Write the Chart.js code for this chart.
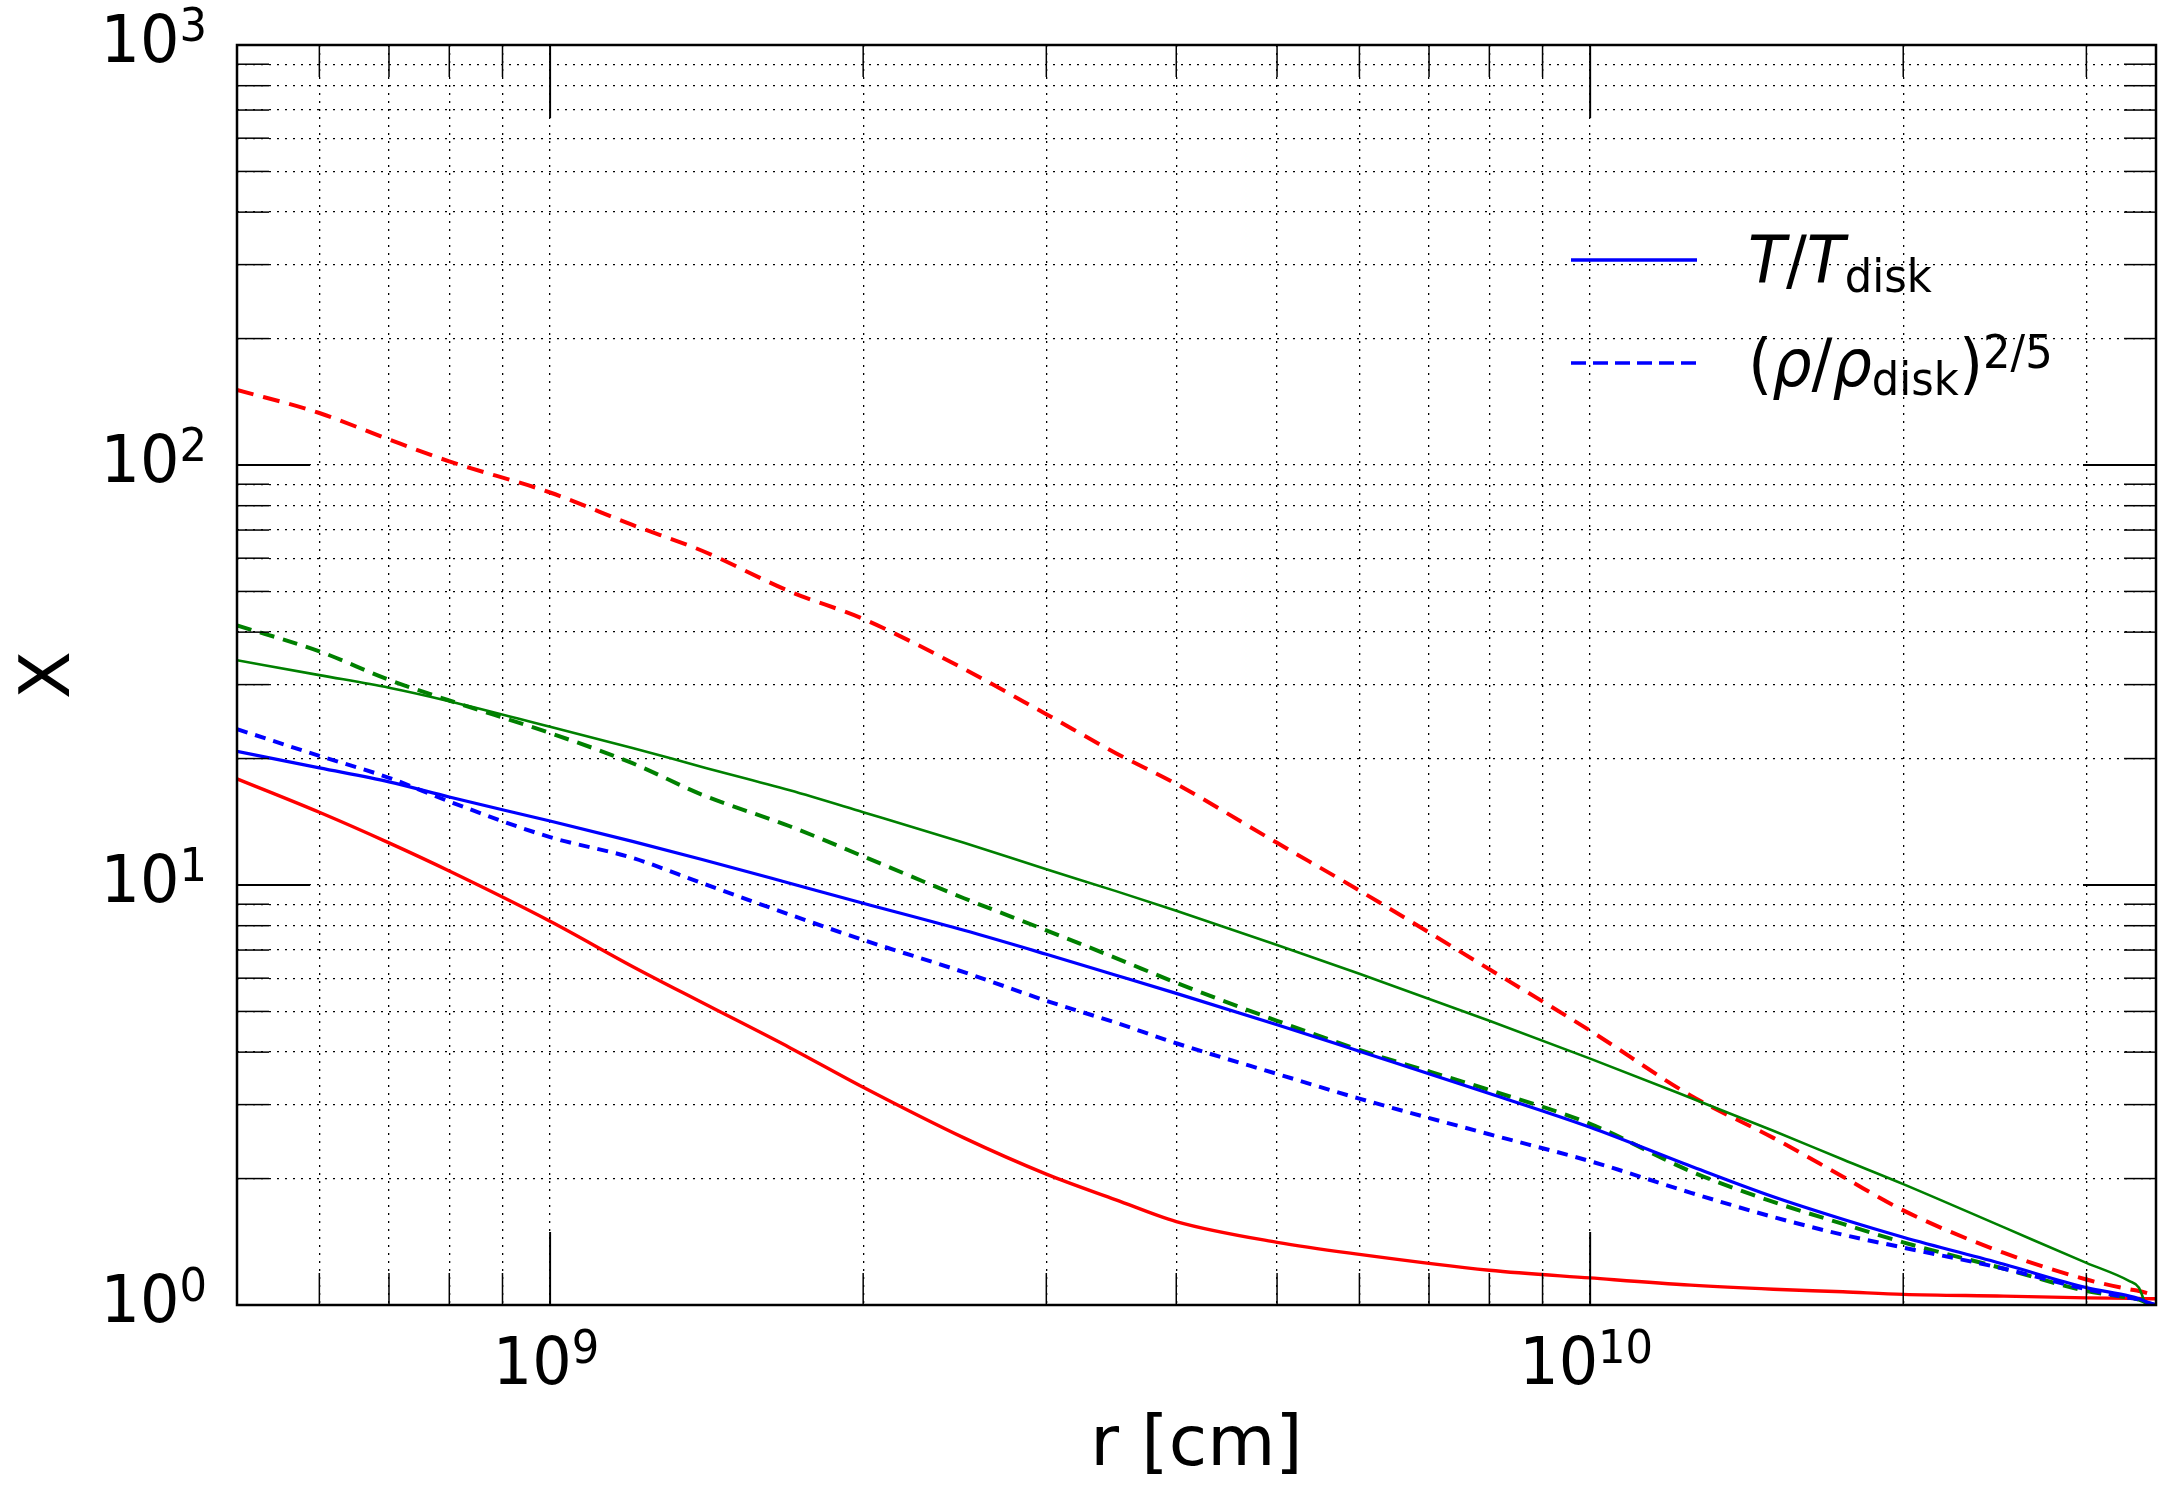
<!DOCTYPE html>
<html>
<head>
<meta charset="utf-8">
<script src="https://cdn.jsdelivr.net/npm/chart.js@4.4.1/dist/chart.umd.min.js"></script>
<style>
  html, body { margin: 0; padding: 0; background: #fff; }
  #wrap { width: 2171px; height: 1493px; }
</style>
</head>
<body>
<div id="wrap"><canvas id="chart"></canvas></div>
<script>
// radius [cm]
const radius = [5e8, 6e8, 7e8, 8e8, 1e9, 1.2e9, 1.4e9, 1.7e9, 2e9, 2.5e9, 3e9, 3.5e9, 4e9, 5e9, 6e9, 8e9,
  1e10, 1.25e10, 1.5e10, 1.75e10, 2e10, 2.5e10, 3e10, 3.3e10, 3.37e10, 3.42e10, 3.5e10];

// T/T_disk
const redT   = [17.9, 14.9, 12.6, 10.8, 8.2, 6.4, 5.25, 4.1, 3.3, 2.5, 2.05, 1.78, 1.58, 1.41, 1.32, 1.21,
  1.16, 1.115, 1.09, 1.075, 1.06, 1.05, 1.04, 1.037, 1.036, 1.035, 1.035];
const greenT = [34.3, 31.6, 29.5, 27.4, 23.8, 21.2, 19.1, 16.8, 14.9, 12.6, 10.9, 9.67, 8.68, 7.2, 6.15, 4.75,
  3.86, 3.11, 2.6, 2.22, 1.94, 1.53, 1.26, 1.14, 1.10, 1.0, null];
const blueT  = [20.8, 19.0, 17.6, 16.2, 14.2, 12.7, 11.5, 10.1, 9.05, 7.8, 6.84, 6.1, 5.52, 4.65, 4.02, 3.19,
  2.65, 2.14, 1.81, 1.6, 1.45, 1.25, 1.10, 1.05, 1.035, 1.02, 1.0];

// (rho/rho_disk)^(2/5)
const redRho   = [151, 133, 115, 102, 86, 72, 62.5, 50, 43, 32.7, 25.5, 20.6, 17.4, 12.6, 9.7, 6.3,
  4.5, 3.15, 2.5, 2.02, 1.68, 1.33, 1.15, 1.09, 1.08, 1.07, 1.05];
const greenRho = [41.5, 36, 30.8, 27.5, 23.0, 19.5, 16.4, 13.8, 11.7, 9.3, 7.8, 6.7, 5.85, 4.75, 4.05, 3.25,
  2.7, 2.08, 1.76, 1.56, 1.41, 1.22, 1.08, 1.04, 1.03, 1.015, 1.0];
const blueRho  = [23.5, 20.3, 18.0, 15.8, 13.0, 11.6, 10.1, 8.5, 7.4, 6.2, 5.3, 4.7, 4.2, 3.55, 3.1, 2.55,
  2.2, 1.85, 1.62, 1.47, 1.37, 1.22, 1.09, 1.04, 1.03, 1.015, 1.0];

// axis ticks
const xTicks = [6e8, 7e8, 8e8, 9e8, 1e9, 2e9, 3e9, 4e9, 5e9, 6e9, 7e9, 8e9, 9e9, 1e10, 2e10, 3e10];
const xMajorExp = [9, 10];
const yTicks = [1, 2, 3, 4, 5, 6, 7, 8, 9, 10, 20, 30, 40, 50, 60, 70, 80, 90,
  100, 200, 300, 400, 500, 600, 700, 800, 900, 1000];
const yMajorExp = [0, 1, 2, 3];

const FONT = "'DejaVu Sans', sans-serif";
const SX = 0.94; // mathtext in the original is a bit narrow

// legend rows: runs of text (size, italic, vertical shift)
const legendRows = [
  { color: "#0000ff", dash: [], runs: [
    { text: "T", size: 66, italic: true },
    { text: "/", size: 66 },
    { text: "T", size: 66, italic: true },
    { text: "disk", size: 46, dy: 9 }
  ]},
  { color: "#0000ff", dash: [15, 7], runs: [
    { text: "(", size: 66 },
    { text: "\u03c1", size: 66, italic: true },
    { text: "/", size: 66 },
    { text: "\u03c1", size: 66, italic: true },
    { text: "disk", size: 46, dy: 9 },
    { text: ")", size: 66 },
    { text: "2/5", size: 46, dy: -18 }
  ]}
];

function setFont(ctx, r) {
  ctx.font = (r.italic ? "italic " : "") + r.size + "px " + FONT;
}

function drawRuns(ctx, runs, x, y, align, sx) {
  ctx.save();
  ctx.translate(x, y);
  ctx.scale(sx, 1);
  ctx.textAlign = "left";
  ctx.textBaseline = "alphabetic";
  let w = 0;
  runs.forEach(r => { setFont(ctx, r); w += ctx.measureText(r.text).width; });
  let cx = align === "right" ? -w : align === "center" ? -w / 2 : 0;
  runs.forEach(r => {
    setFont(ctx, r);
    ctx.fillText(r.text, cx, r.dy || 0);
    cx += ctx.measureText(r.text).width;
  });
  ctx.restore();
}

function powRuns(exp) {
  return [{ text: "10", size: 66 }, { text: String(exp), size: 46, dy: -21 }];
}

function isMajor(v, exps) {
  return exps.some(e => Math.abs(Math.log10(v) - e) < 1e-9);
}

const axesPlugin = {
  id: "axesPlugin",
  afterDatasetsDraw(chart) {
    const { ctx, chartArea: a, scales: { x, y } } = chart;
    ctx.save();
    ctx.strokeStyle = "#000";
    ctx.fillStyle = "#000";
    const seg = (x1, y1, x2, y2) => { ctx.beginPath(); ctx.moveTo(x1, y1); ctx.lineTo(x2, y2); ctx.stroke(); };

    // tick marks, inward on all four sides
    xTicks.forEach(v => {
      const px = x.getPixelForValue(v);
      const major = isMajor(v, xMajorExp);
      const len = major ? 73 : 32;
      ctx.lineWidth = major ? 2 : 1.5;
      seg(px, a.bottom, px, a.bottom - len);
      seg(px, a.top, px, a.top + len);
    });
    yTicks.forEach(v => {
      const py = y.getPixelForValue(v);
      const major = isMajor(v, yMajorExp);
      const len = major ? 73 : 32;
      ctx.lineWidth = major ? 2 : 1.5;
      seg(a.left, py, a.left + len, py);
      seg(a.right, py, a.right - len, py);
    });

    // frame
    ctx.lineWidth = 2.5;
    ctx.strokeRect(a.left, a.top, a.right - a.left, a.bottom - a.top);

    // tick labels
    yMajorExp.forEach(e => {
      const py = y.getPixelForValue(Math.pow(10, e));
      drawRuns(ctx, powRuns(e), a.left - 30, py + 17, "right", SX);
    });
    xMajorExp.forEach(e => {
      const px = x.getPixelForValue(Math.pow(10, e));
      drawRuns(ctx, powRuns(e), px - 4, a.bottom + 79, "center", SX);
    });

    // axis titles
    ctx.font = "70px " + FONT;
    ctx.textAlign = "center";
    ctx.textBaseline = "alphabetic";
    ctx.fillText("r [cm]", (a.left + a.right) / 2, 1465);
    ctx.save();
    ctx.translate(69, (a.top + a.bottom) / 2);
    ctx.rotate(-Math.PI / 2);
    ctx.fillText("X", 0, 0);
    ctx.restore();

    // legend (no frame)
    legendRows.forEach((row, i) => {
      const ly = 260 + i * 103;
      ctx.save();
      ctx.strokeStyle = row.color;
      ctx.lineWidth = 3.5;
      ctx.setLineDash(row.dash);
      seg(1571, ly, 1697, ly);
      ctx.restore();
      drawRuns(ctx, row.runs, 1748, 283 + i * 103, "left", 0.94);
    });
    ctx.restore();
  }
};

function series(vals) {
  return radius.map((r, i) => ({ x: r, y: vals[i] }));
}

const datasets = [
  { label: "blueT", data: series(blueT), borderColor: "#0000ff", borderWidth: 3.2, borderDash: [] },
  { label: "blueRho", data: series(blueRho), borderColor: "#0000ff", borderWidth: 4, borderDash: [11, 8] },
  { label: "greenT", data: series(greenT), borderColor: "#008000", borderWidth: 2.6, borderDash: [] },
  { label: "greenRho", data: series(greenRho), borderColor: "#008000", borderWidth: 4, borderDash: [15, 9] },
  { label: "redT", data: series(redT), borderColor: "#ff0000", borderWidth: 3.4, borderDash: [] },
  { label: "redRho", data: series(redRho), borderColor: "#ff0000", borderWidth: 4, borderDash: [17, 10] }
].map(d => ({ ...d, pointRadius: 0, cubicInterpolationMode: "monotone", fill: false, spanGaps: false }));

new Chart(document.getElementById("chart"), {
  type: "line",
  data: { datasets },
  options: {
    responsive: true,
    maintainAspectRatio: false,
    animation: false,
    devicePixelRatio: 1,
    layout: { padding: { left: 237, right: 15, top: 45, bottom: 188 } },
    plugins: { legend: { display: false }, tooltip: { enabled: false } },
    scales: {
      x: {
        type: "logarithmic",
        min: 5e8,
        max: 3.5e10,
        afterBuildTicks: (scale) => { scale.ticks = xTicks.map(v => ({ value: v })); },
        ticks: { display: false },
        grid: { color: "#000", lineWidth: 1.3, drawTicks: false },
        border: { display: false, dash: [2, 6] }
      },
      y: {
        type: "logarithmic",
        min: 1,
        max: 1000,
        afterBuildTicks: (scale) => { scale.ticks = yTicks.map(v => ({ value: v })); },
        ticks: { display: false },
        grid: { color: "#000", lineWidth: 1.3, drawTicks: false },
        border: { display: false, dash: [2, 6] }
      }
    }
  },
  plugins: [axesPlugin]
});
</script>
</body>
</html>
